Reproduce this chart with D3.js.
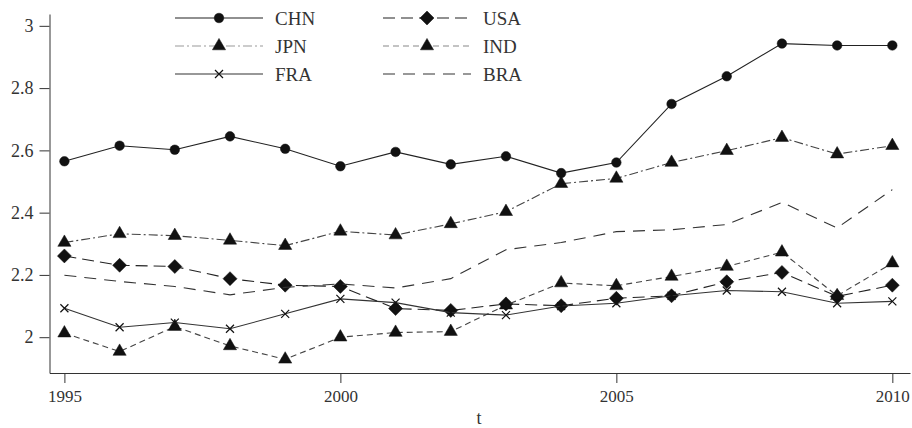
<!DOCTYPE html>
<html>
<head>
<meta charset="utf-8">
<script src="https://cdn.jsdelivr.net/npm/d3@7"></script>
<style>
  body { margin: 0; background: #fff; }
  svg text { font-family: "Liberation Serif", "DejaVu Serif", serif; fill: #333; }
</style>
</head>
<body>
<div class="chart"></div>
<script>
const years = [1995, 1996, 1997, 1998, 1999, 2000, 2001, 2002, 2003, 2004, 2005, 2006, 2007, 2008, 2009, 2010];
const chn = [2.565, 2.615, 2.602, 2.645, 2.605, 2.549, 2.595, 2.555, 2.581, 2.527, 2.561, 2.749, 2.838, 2.943, 2.937, 2.937];
const usa = [2.261, 2.231, 2.227, 2.188, 2.167, 2.163, 2.092, 2.086, 2.107, 2.101, 2.125, 2.133, 2.178, 2.208, 2.131, 2.167];
const jpn = [2.304, 2.332, 2.326, 2.311, 2.294, 2.340, 2.328, 2.364, 2.403, 2.493, 2.510, 2.561, 2.599, 2.641, 2.588, 2.615];
const ind = [2.013, 1.954, 2.034, 1.972, 1.929, 2.000, 2.015, 2.018, 2.103, 2.174, 2.165, 2.195, 2.227, 2.273, 2.133, 2.238];
const fra = [2.093, 2.032, 2.047, 2.027, 2.075, 2.123, 2.111, 2.079, 2.071, 2.100, 2.109, 2.133, 2.150, 2.146, 2.109, 2.115];
const bra = [2.199, 2.179, 2.163, 2.136, 2.160, 2.171, 2.158, 2.188, 2.281, 2.304, 2.339, 2.345, 2.362, 2.433, 2.351, 2.474];
const xTicks = [1995, 2000, 2005, 2010];
const yTicks = [2, 2.2, 2.4, 2.6, 2.8, 3];

const series = [
  { name: 'CHN', values: chn, dash: null, color: '#222', legendColor: '#222', marker: 'circle' },
  { name: 'USA', values: usa, dash: '12,6', color: '#222', legendColor: '#222', marker: 'diamond' },
  { name: 'JPN', values: jpn, dash: '9,3,2,3', color: '#444', legendColor: '#999', marker: 'triangle' },
  { name: 'IND', values: ind, dash: '6,4', color: '#444', legendColor: '#888', marker: 'triangle' },
  { name: 'FRA', values: fra, dash: null, color: '#333', legendColor: '#333', marker: 'cross' },
  { name: 'BRA', values: bra, dash: '12,8', color: '#333', legendColor: '#333', marker: null }
];

const w = 912;
const h = 428;
const font = '"Liberation Serif", "DejaVu Serif", serif';

const xScale = d3.scaleLinear().domain([1994.73, 2010.32]).range([49.5, 910]);
const yScale = d3.scaleLinear().domain([1.885, 3.038]).range([373, 14]);

const svg = d3.select('.chart')
  .append('svg')
  .attr('width', w)
  .attr('height', h);

svg.append('g')
  .attr('class', 'x-axis')
  .attr('transform', 'translate(0, 373)')
  .call(d3.axisBottom(xScale).tickValues(xTicks).tickFormat(d3.format('d')).tickSize(10).tickSizeOuter(0).tickPadding(7))
  .attr('font-family', font)
  .attr('font-size', 17);

svg.append('g')
  .attr('class', 'y-axis')
  .attr('transform', 'translate(49.5, 0)')
  .call(d3.axisLeft(yScale).tickValues(yTicks).tickFormat(d3.format('~g')).tickSize(10).tickSizeOuter(0).tickPadding(6))
  .attr('font-family', font)
  .attr('font-size', 18);

svg.selectAll('.domain, .tick line').attr('stroke', '#333');

svg.append('text')
  .attr('x', 479)
  .attr('y', 424)
  .attr('text-anchor', 'middle')
  .attr('font-family', font)
  .style('font-size', '18px')
  .text('t');

function markerPath(type) {
  if (type === 'circle') return d3.symbol(d3.symbolCircle, 72)();
  if (type === 'diamond') return 'M0,-7L7,0L0,7L-7,0Z';
  if (type === 'triangle') return d3.symbol(d3.symbolTriangle, 75)();
  if (type === 'cross') return 'M-4,-4L4,4M-4,4L4,-4';
  return null;
}

function drawMarker(g, type, x, y) {
  if (!type) return;
  g.append('path')
    .attr('d', markerPath(type))
    .attr('transform', `translate(${x},${y})`)
    .attr('fill', type === 'cross' ? 'none' : '#111')
    .attr('stroke', '#111')
    .attr('stroke-width', type === 'cross' ? 1.2 : 0.5);
}

const line = d3.line()
  .x((d, i) => xScale(years[i]))
  .y((d) => yScale(d));

series.forEach((s) => {
  const g = svg.append('g').attr('class', 'series');
  g.append('path')
    .datum(s.values)
    .attr('d', line)
    .attr('fill', 'none')
    .attr('stroke', s.color)
    .attr('stroke-width', 1.1)
    .attr('stroke-dasharray', s.dash);
  s.values.forEach((v, i) => drawMarker(g, s.marker, xScale(years[i]), yScale(v)));
});

// legend, two columns
const legend = svg.append('g').attr('class', 'legend');
series.forEach((s, i) => {
  const col = i % 2;
  const row = Math.floor(i / 2);
  const x0 = col === 0 ? 175 : 383;
  const y0 = 18 + row * 28;
  legend.append('line')
    .attr('x1', x0).attr('x2', x0 + 88)
    .attr('y1', y0).attr('y2', y0)
    .attr('stroke', s.legendColor)
    .attr('stroke-width', 1.1)
    .attr('stroke-dasharray', s.dash);
  drawMarker(legend, s.marker, x0 + 44, y0);
  legend.append('text')
    .attr('x', x0 + 100)
    .attr('y', y0 + 6.5)
    .attr('font-family', font)
    .style('font-size', '19px')
    .text(s.name);
});
</script>
</body>
</html>
